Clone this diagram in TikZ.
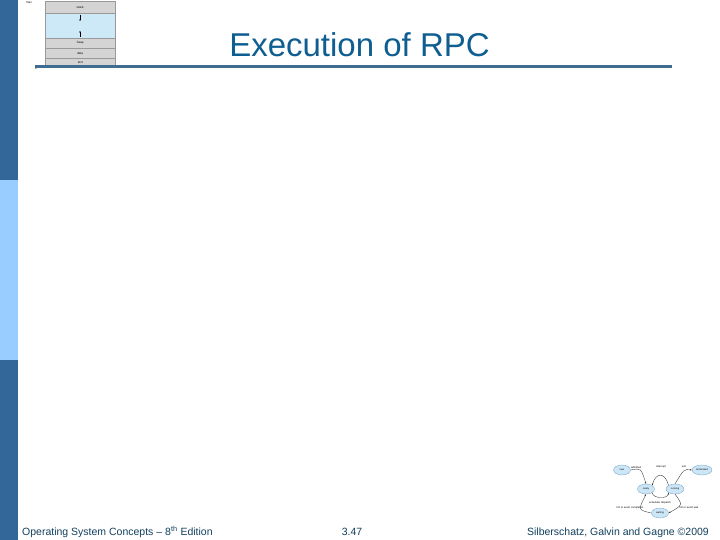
\documentclass[tikz,border=0pt]{standalone}
\usepackage{fontspec}
\setmainfont{Liberation Sans}
\usetikzlibrary{shapes.geometric,arrows.meta}
\definecolor{bardark}{HTML}{336699}
\definecolor{barlight}{HTML}{99CCFF}
\definecolor{titleblue}{HTML}{0F5E91}
\definecolor{rulecol}{HTML}{3F6C90}
\definecolor{footcol}{HTML}{123F5E}
\definecolor{memgray}{HTML}{D4D4D4}
\definecolor{memblue}{HTML}{CDE9F8}
\definecolor{stfill}{HTML}{CDE6F6}
\definecolor{stdraw}{HTML}{6C9EC6}
\tikzset{
  membox/.style={draw=gray!80, fill=memgray, minimum width=70pt, inner sep=0pt, font=\fontsize{3}{3}\selectfont, anchor=north west},
  stnode/.style={ellipse, draw=stdraw, fill=stfill, line width=0.3pt, minimum height=10pt, inner sep=0pt, font=\fontsize{2.5}{3}\selectfont},
  stlab/.style={font=\fontsize{2.6}{3}\selectfont, inner sep=0.3pt},
  starrow/.style={-{Stealth[length=2pt,width=1.6pt]}, line width=0.35pt, black!80},
  foot/.style={font=\fontsize{10.5}{12}\selectfont, text=footcol, inner sep=0pt}
}
\begin{document}
\begin{tikzpicture}[x=1pt,y=-1pt]
\useasboundingbox (0,0) rectangle (720,540);
% left bar
\fill[bardark] (0,0) rectangle (18,180);
\fill[barlight] (0,180) rectangle (18,360);
\fill[bardark] (0,360) rectangle (18,540);
% memory layout thumbnail
\node[membox, minimum height=12pt] (stackbox) at (45,1) {stack};
\node[membox, fill=memblue, minimum height=25pt] (freebox) at (45,13) {};
\node[membox, minimum height=10pt] (heapbox) at (45,38) {heap};
\node[membox, minimum height=10pt] (databox) at (45,48) {data};
\node[membox, minimum height=9pt] (textbox) at (45,58) {text};
\coordinate (dnA) at (80,15);
\coordinate (dnB) at (80,21);
\coordinate (upA) at (80,37);
\coordinate (upB) at (80,31);
\draw[-{Stealth[length=1.5pt,width=1.5pt]}, line width=0.4pt] (dnA) -- (dnB);
\draw[-{Stealth[length=1.5pt,width=1.5pt]}, line width=0.4pt] (upA) -- (upB);
\node[font=\fontsize{3}{3}\selectfont, inner sep=0pt] (maxlab) at (29,3) {max};
\node[font=\fontsize{3}{3}\selectfont, inner sep=0pt] (zerolab) at (36,68.5) {0};
% title
\node[font=\fontsize{33}{36}\selectfont, text=titleblue, anchor=base, inner sep=0pt] (title) at (359.5,57) {Execution of RPC};
\draw[rulecol, line width=3pt] (35,67) -- (672,67);
% footer
\node[foot, anchor=base west] (footl) at (22,535) {Operating System Concepts -- 8\textsuperscript{th} Edition};
\node[foot, anchor=base] (footc) at (352,535) {3.47};
\node[foot, anchor=base east] (footr) at (709,535) {Silberschatz, Galvin and Gagne ©2009};
% process state thumbnail
\node[stnode, minimum width=17pt] (new) at (622,470) {new};
\node[stnode, minimum width=20pt] (terminated) at (702,470) {terminated};
\node[stnode, minimum width=17pt] (ready) at (646,489) {ready};
\node[stnode, minimum width=18pt] (running) at (675,489) {running};
\node[stnode, minimum width=17pt] (waiting) at (660,513) {waiting};
\draw[starrow] (new.east) .. controls (641,468) .. (ready.north);
\draw[starrow] (running.north) .. controls (684,469) .. (terminated.west);
\draw[starrow] (running.north west) .. controls (665,472) and (656,472) .. (ready.north east);
\draw[starrow] (ready.south east) .. controls (653,499) and (668,499) .. (running.south west);
\draw[starrow] (waiting.west) .. controls (638,510) .. (ready.south);
\draw[starrow] (running.south) .. controls (683,505) .. (waiting.east);
\node[stlab] (admitted) at (636,467.5) {admitted};
\node[stlab] (interrupt) at (661,467) {interrupt};
\node[stlab] (exitlab) at (684,467) {exit};
\node[stlab] (dispatch) at (660,502.5) {scheduler dispatch};
\node[stlab] (iocomp) at (630,507.5) {I/O or event completion};
\node[stlab] (iowait) at (689,507.5) {I/O or event wait};
\end{tikzpicture}
\end{document}
